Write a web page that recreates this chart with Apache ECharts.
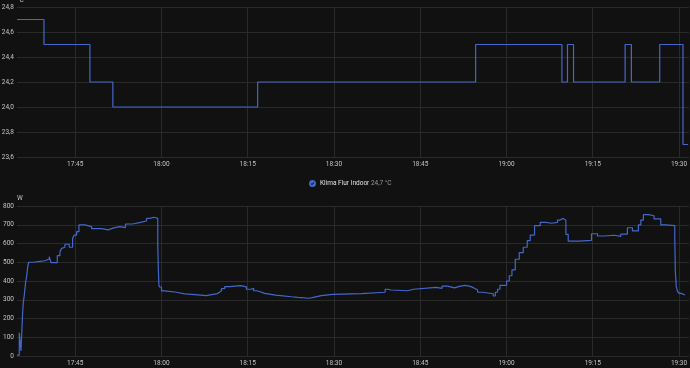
<!DOCTYPE html>
<html>
<head>
<meta charset="utf-8">
<script src="https://cdn.jsdelivr.net/npm/echarts@6/dist/echarts.min.js"></script>
<style>
  html, body { margin: 0; padding: 0; background: #111111; }
  #chart { width: 690px; height: 368px; }
</style>
</head>
<body>
<div id="chart"></div>
<script>
// times are minutes past 17:00
var axisStart = 34.88;
var axisEnd = 151.74;
var tickLabels = ['17:45', '18:00', '18:15', '18:30', '18:45', '19:00', '19:15', '19:30'];

// Klima Flur Indoor (°C), step values
var tempTimes = [34.88, 39.57, 47.56, 51.55, 76.73, 114.64, 129.64, 130.61, 131.66, 140.63, 141.72, 146.65, 150.70, 151.6];
var tempValues = [24.7, 24.5, 24.2, 24.0, 24.2, 24.5, 24.2, 24.5, 24.2, 24.5, 24.2, 24.5, 23.7, 23.7];

// power (W)
var powerTimes = [
  34.88, 35.28, 35.57, 35.87, 35.97, 36.15, 36.39, 36.56, 36.74, 36.91,
  37.71, 38.87, 39.74, 40.49, 40.78, 41.88, 42.35, 42.64, 42.92, 43.21,
  43.96, 44.55, 44.83, 45.25, 45.65, 46.69, 47.85, 49.59, 50.73, 51.72,
  52.76, 53.75, 54.97, 56.36, 57.40, 57.97, 58.67, 59.36, 59.45, 59.55,
  59.65, 60.01, 60.58, 62.61, 64.05, 65.79, 67.82, 68.69, 69.56, 70.01,
  70.43, 71.00, 71.87, 73.72, 74.77, 75.63, 76.03, 76.50, 77.07, 77.94,
  79.85, 82.58, 83.73, 85.76, 86.63, 87.79, 89.80, 94.73, 98.90, 99.35,
  99.94, 102.83, 103.82, 107.76, 108.80, 109.77, 110.94, 111.80, 112.84, 113.83,
  114.41, 114.98, 115.85, 117.71, 118.06, 118.45, 118.87, 120.02, 120.49, 120.95,
  121.53, 122.22, 122.92, 123.61, 124.13, 124.88, 125.87, 126.86, 127.83, 128.87,
  129.29, 129.86, 130.33, 130.73, 132.64, 134.78, 135.82, 136.98, 138.72, 139.88,
  141.03, 141.90, 142.94, 143.36, 143.81, 144.68, 145.66, 146.83, 147.69, 149.26,
  149.36, 149.53, 149.71, 150.00, 150.40, 151.05
];
var powerValues = [
  5, 124, 27, 236, 283, 325, 396, 423, 476, 500,
  505, 508, 517, 530, 498, 535, 556, 574, 580, 596,
  580, 628, 645, 663, 699, 690, 679, 673, 683, 690,
  685, 704, 713, 720, 734, 740, 734, 590, 476, 382,
  368, 347, 340, 331, 327, 322, 327, 331, 338, 348,
  359, 370, 375, 369, 356, 361, 348, 344, 334, 325,
  316, 313, 308, 314, 322, 329, 333, 340, 356, 352,
  348, 356, 366, 361, 373, 363, 371, 377, 370, 361,
  352, 340, 332, 320, 340, 356, 377, 400, 428, 459,
  516, 551, 580, 615, 645, 695, 713, 708, 713, 725,
  734, 724, 649, 613, 617, 652, 640, 644, 638, 650,
  684, 667, 699, 725, 754, 748, 731, 699, 695, 640,
  453, 370, 347, 334, 325, 325
];

var base = new Date(2024, 0, 1, 17, 0, 0).getTime();
function toTs(m) { return base + Math.round(m * 60000); }
function labelTs(s) { var p = s.split(':'); return toTs((+p[0] - 17) * 60 + (+p[1])); }
function pad(n) { return (n < 10 ? '0' : '') + n; }
function hhmm(v) { var d = new Date(v); return pad(d.getHours()) + ':' + pad(d.getMinutes()); }

var lineColor = '#4467cc';
var gridColor = '#2a2a2a';
var labelColor = '#c4c4c4';
var font = 'Roboto';
var fs = 6.5;
var tickValues = tickLabels.map(labelTs);

function xAxisFor(idx) {
    return {
        type: 'value',
        gridIndex: idx,
        min: toTs(axisStart),
        max: toTs(axisEnd),
        axisLine: { show: false },
        axisTick: { show: false, customValues: tickValues },
        splitLine: { show: true, lineStyle: { color: gridColor, width: 1 } },
        axisLabel: {
            color: labelColor, fontSize: fs, fontFamily: font, margin: 4,
            customValues: tickValues,
            formatter: function (v) { return hhmm(v); }
        }
    };
}

var chart = echarts.init(document.getElementById('chart'));
chart.setOption({
    backgroundColor: '#111111',
    animation: false,
    textStyle: { fontFamily: font },
    legend: {
        data: ['Klima Flur Indoor'],
        left: 304,
        top: 175,
        icon: 'path://M12 2A10 10 0 1 1 12 22A10 10 0 1 1 12 2Z M6.5 12.5L10.5 16.5L17.5 9.5L16 8L10.5 13.5L8 11Z',
        itemWidth: 7,
        itemHeight: 7,
        itemGap: 4,
        itemStyle: { borderWidth: 0 },
        formatter: function (name) { return '{n|' + name + '} {v|24,7 °C}'; },
        textStyle: {
            fontSize: fs,
            padding: [0, 0, 0, -1],
            rich: {
                n: { color: '#e0e0e0', fontSize: fs, fontFamily: font },
                v: { color: '#9a9a9a', fontSize: fs, fontFamily: font }
            }
        }
    },
    grid: [
        { left: 17, right: 1, top: 7, bottom: 211, outerBoundsMode: 'none' },
        { left: 17, right: 1, top: 206, bottom: 12, outerBoundsMode: 'none' }
    ],
    xAxis: [xAxisFor(0), xAxisFor(1)],
    yAxis: [
        {
            type: 'value', gridIndex: 0,
            min: 23.6, max: 24.8, interval: 0.2,
            name: '°C', nameLocation: 'end', nameGap: 2,
            nameTextStyle: { color: labelColor, fontSize: fs, align: 'left', fontFamily: font },
            axisLine: { show: false }, axisTick: { show: false },
            splitLine: { lineStyle: { color: gridColor } },
            axisLabel: {
                color: labelColor, fontSize: fs, margin: 3, fontFamily: font,
                formatter: function (v) { return v.toFixed(1).replace('.', ','); }
            }
        },
        {
            type: 'value', gridIndex: 1,
            min: 0, max: 800, interval: 100,
            name: 'W', nameLocation: 'end', nameGap: 4,
            nameTextStyle: { color: labelColor, fontSize: fs, align: 'left', fontFamily: font },
            axisLine: { show: false }, axisTick: { show: false },
            splitLine: { lineStyle: { color: gridColor } },
            axisLabel: { color: labelColor, fontSize: fs, margin: 3, fontFamily: font }
        }
    ],
    series: [
        {
            name: 'Klima Flur Indoor',
            type: 'line',
            xAxisIndex: 0, yAxisIndex: 0,
            step: 'end',
            showSymbol: false,
            color: lineColor,
            lineStyle: { width: 1.2, color: lineColor },
            data: tempTimes.map(function (m, i) { return [toTs(m), tempValues[i]]; })
        },
        {
            name: 'Power',
            type: 'line',
            xAxisIndex: 1, yAxisIndex: 1,
            step: 'end',
            showSymbol: false,
            color: lineColor,
            lineStyle: { width: 1.2, color: lineColor },
            data: powerTimes.map(function (m, i) { return [toTs(m), powerValues[i]]; })
        }
    ]
});
</script>
</body>
</html>
